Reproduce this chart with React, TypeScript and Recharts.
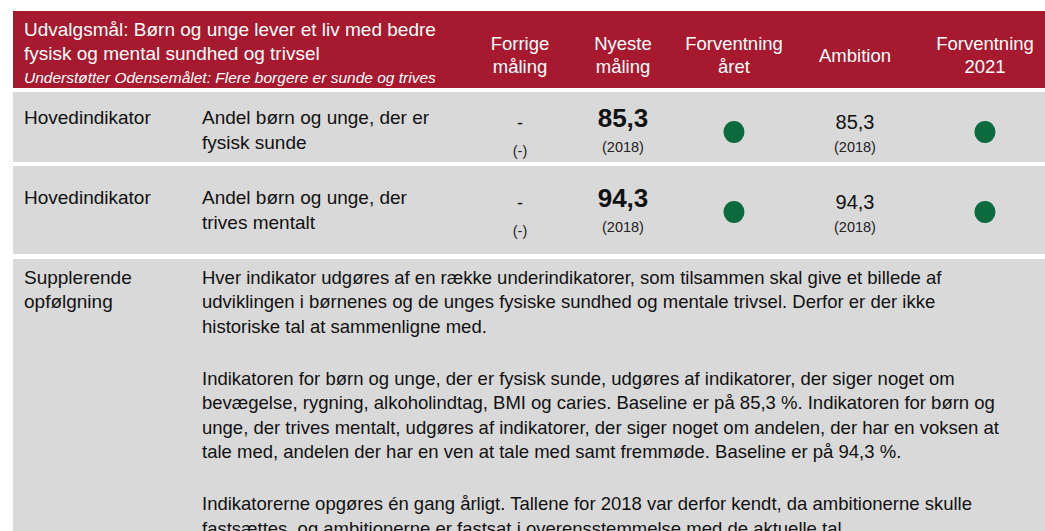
import React from "react";
import { ScatterChart, Scatter, XAxis, YAxis, ReferenceArea } from "recharts";

// ---------- data ----------
const titleLines = ["Udvalgsmål: Børn og unge lever et liv med bedre", "fysisk og mental sundhed og trivsel"];
const subtitle = "Understøtter Odensemålet: Flere borgere er sunde og trives";
const columnHeaders = [["Forrige", "måling"], ["Nyeste", "måling"], ["Forventning", "året"], ["Ambition"], ["Forventning", "2021"]];
const indicatorTypes = ["Hovedindikator", "Hovedindikator"];
const indicatorNames = [["Andel børn og unge, der er", "fysisk sunde"], ["Andel børn og unge, der", "trives mentalt"]];
const previousValues = ["-", "-"];
const previousYears = ["(-)", "(-)"];
const latestValues = [85.3, 94.3];
const latestYears = [2018, 2018];
const expectationYear = ["green", "green"];
const ambitionValues = [85.3, 94.3];
const ambitionYears = [2018, 2018];
const expectation2021 = ["green", "green"];
const supplementLabel = ["Supplerende", "opfølgning"];
const supplementParagraphs = [
  [
    "Hver indikator udgøres af en række underindikatorer, som tilsammen skal give et billede af",
    "udviklingen i børnenes og de unges fysiske sundhed og mentale trivsel. Derfor er der ikke",
    "historiske tal at sammenligne med.",
  ],
  [
    "Indikatoren for børn og unge, der er fysisk sunde, udgøres af indikatorer, der siger noget om",
    "bevægelse, rygning, alkoholindtag, BMI og caries. Baseline er på 85,3 %. Indikatoren for børn og",
    "unge, der trives mentalt, udgøres af indikatorer, der siger noget om andelen, der har en voksen at",
    "tale med, andelen der har en ven at tale med samt fremmøde. Baseline er på 94,3 %.",
  ],
  [
    "Indikatorerne opgøres én gang årligt. Tallene for 2018 var derfor kendt, da ambitionerne skulle",
    "fastsættes, og ambitionerne er fastsat i overensstemmelse med de aktuelle tal.",
  ],
];

// ---------- layout ----------
const W = 1045;
const H = 531;
const LEFT = 13;
const colX = [520, 623, 734, 855, 985];
const typeX = 24;
const nameX = 202;
const header = { y1: 11, y2: 88 };
const rows = [
  { y1: 92, y2: 162, top: 117 },
  { y1: 166, y2: 254, top: 197 },
];
const suppRow = { y1: 259, y2: 531, top: 277 };
const lineH = 24.5;
const paraGap = 52;
const bodySize = 18.5;

const RED = "#A6192E";
const GRAY = "#D9D9D9";
const GREEN = "#0B6B3F";
const FONT = "Arial, 'Liberation Sans', Helvetica, sans-serif";

const fmt = (v: number) => v.toFixed(1).replace(".", ",");

type T = { x: number; y: number; text: string; size: number; color: string; anchor: string; weight?: string; italic?: boolean };
const texts: T[] = [];
const add = (x: number, y: number, text: string, size: number, color: string, anchor = "start", weight = "normal", italic = false) =>
  texts.push({ x, y, text, size, color, anchor, weight, italic });

// header
titleLines.forEach((t, i) => add(typeX, 29 + i * 24, t, 19, "#fff"));
add(typeX, 77, subtitle, 15.5, "#fff", "start", "normal", true);
columnHeaders.forEach((lines, i) => {
  if (lines.length === 1) add(colX[i], 55, lines[0], 18.5, "#fff", "middle");
  else lines.forEach((l, j) => add(colX[i], 43 + j * 23, l, 18.5, "#fff", "middle"));
});

// indicator rows
rows.forEach((r, i) => {
  add(typeX, r.top, indicatorTypes[i], 19, "#111");
  indicatorNames[i].forEach((l, j) => add(nameX, r.top + j * 25, l, 19, "#111"));
  add(colX[0], r.top + 6, previousValues[i], 18, "#111", "middle");
  add(colX[0], r.top + 34, previousYears[i], 14.5, "#222", "middle");
  add(colX[1], r.top + 1, fmt(latestValues[i]), 26, "#111", "middle", "bold");
  add(colX[1], r.top + 30, `(${latestYears[i]})`, 14.5, "#222", "middle");
  add(colX[3], r.top + 5, fmt(ambitionValues[i]), 20, "#111", "middle");
  add(colX[3], r.top + 30, `(${ambitionYears[i]})`, 14.5, "#222", "middle");
});

// supplementary row
supplementLabel.forEach((l, j) => add(typeX, suppRow.top + j * 24, l, 19, "#111"));
{
  let y = suppRow.top;
  supplementParagraphs.forEach((p) => {
    p.forEach((l, j) => add(nameX, y + j * lineH, l, bodySize, "#111"));
    y += (p.length - 1) * lineH + paraGap;
  });
}

const dotColor: Record<string, string> = { green: GREEN };
const dots = [
  ...expectationYear.map((s, i) => ({ x: colX[2], y: rows[i].top + 15, color: dotColor[s] })),
  ...expectation2021.map((s, i) => ({ x: colX[4], y: rows[i].top + 15, color: dotColor[s] })),
];

const TextShape = (props: any) => {
  const { cx, cy, payload } = props;
  return (
    <text
      x={cx}
      y={cy}
      textAnchor={payload.anchor}
      dominantBaseline="central"
      fontFamily={FONT}
      fontSize={payload.size}
      fontWeight={payload.weight}
      fontStyle={payload.italic ? "italic" : "normal"}
      fill={payload.color}
    >
      {payload.text}
    </text>
  );
};

const DotShape = (props: any) => {
  const { cx, cy, payload } = props;
  return <ellipse cx={cx} cy={cy} rx={10.5} ry={11} fill={payload.color} />;
};

export default function App() {
  return (
    <div style={{ position: "absolute", left: 0, top: 0, width: W, height: H, background: "#fff" }}>
      <ScatterChart width={W} height={H} margin={{ top: 0, right: 0, bottom: 0, left: 0 }}>
        <XAxis type="number" dataKey="x" domain={[0, W]} hide allowDataOverflow />
        <YAxis type="number" dataKey="y" domain={[0, H]} reversed hide allowDataOverflow />
        <ReferenceArea x1={LEFT} x2={W} y1={header.y1} y2={header.y2} fill={RED} fillOpacity={1} stroke="none" />
        {rows.map((r, i) => (
          <ReferenceArea key={i} x1={LEFT} x2={W} y1={r.y1} y2={r.y2} fill={GRAY} fillOpacity={1} stroke="none" />
        ))}
        <ReferenceArea x1={LEFT} x2={W} y1={suppRow.y1} y2={suppRow.y2} fill={GRAY} fillOpacity={1} stroke="none" />
        <Scatter data={dots} shape={DotShape} isAnimationActive={false} />
        <Scatter data={texts} shape={TextShape} isAnimationActive={false} />
      </ScatterChart>
    </div>
  );
}
